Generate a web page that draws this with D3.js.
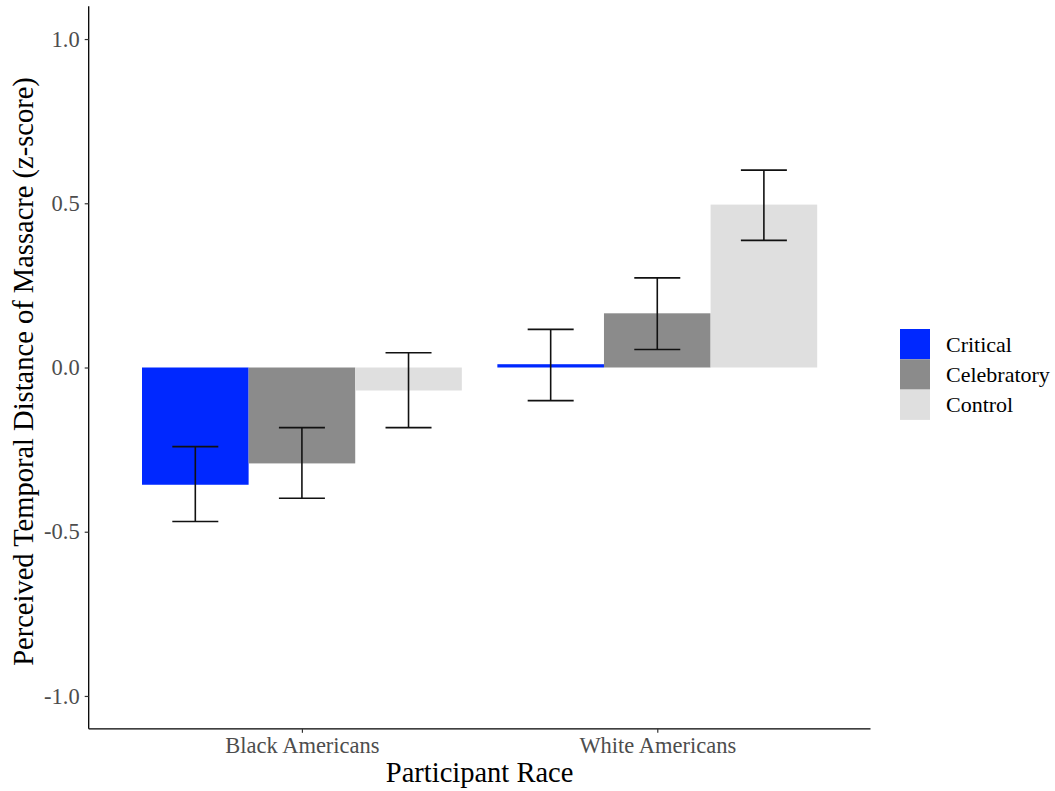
<!DOCTYPE html>
<html>
<head>
<meta charset="utf-8">
<script src="https://cdn.jsdelivr.net/npm/d3@7"></script>
<style>
  html, body { margin: 0; padding: 0; background: #fff; }
  svg { display: block; }
</style>
</head>
<body>
<svg id="chart" width="1055" height="791"></svg>
<script>
// ---- data ----
const groups = ["Black Americans", "White Americans"];
const conditions = ["Critical", "Celebratory", "Control"];
const criticalMeans = [-0.357, 0.010];
const celebratoryMeans = [-0.292, 0.165];
const controlMeans = [-0.070, 0.496];
const criticalLower = [-0.469, -0.101];
const criticalUpper = [-0.241, 0.116];
const celebratoryLower = [-0.398, 0.055];
const celebratoryUpper = [-0.183, 0.273];
const controlLower = [-0.183, 0.387];
const controlUpper = [0.045, 0.601];
const yTicks = [-1.0, -0.5, 0.0, 0.5, 1.0];
const colors = ["#0028ff", "#8b8b8b", "#dfdfdf"];

(function () {
const means = [criticalMeans, celebratoryMeans, controlMeans];
const lowers = [criticalLower, celebratoryLower, controlLower];
const uppers = [criticalUpper, celebratoryUpper, controlUpper];

const rows = [];
groups.forEach((g, gi) => {
  conditions.forEach((c, ci) => {
    rows.push({ group: g, cond: c, ci, mean: means[ci][gi], lo: lowers[ci][gi], hi: uppers[ci][gi] });
  });
});

// ---- layout ----
const svg = d3.select("#chart");
const pLeft = 88.7, pRight = 870.5, pTop = 6.2, pBottom = 728.8;
const FONT = "'Liberation Serif', 'Times New Roman', serif";

const x = d3.scalePoint().domain(groups).range([pLeft, pRight]).padding(0.6);
const step = x.step();
const groupW = step * 0.9;
const xs = d3.scaleBand().domain(conditions).range([-groupW / 2, groupW / 2]).padding(0);
const y = d3.scaleLinear().domain([-1.1, 1.1]).range([pBottom, pTop]);
const color = d3.scaleOrdinal().domain(conditions).range(colors);

// bars
svg.append("g").selectAll("rect").data(rows).join("rect")
  .attr("x", d => x(d.group) + xs(d.cond))
  .attr("width", xs.bandwidth())
  .attr("y", d => y(Math.max(0, d.mean)))
  .attr("height", d => Math.abs(y(d.mean) - y(0)))
  .attr("fill", d => color(d.cond));

// error bars
const capW = 46;
const eb = svg.append("g").attr("stroke", "#111").attr("stroke-width", 1.6).attr("fill", "none");
rows.forEach(d => {
  const cx = x(d.group) + xs(d.cond) + xs.bandwidth() / 2;
  eb.append("line").attr("x1", cx).attr("x2", cx).attr("y1", y(d.lo)).attr("y2", y(d.hi));
  eb.append("line").attr("x1", cx - capW / 2).attr("x2", cx + capW / 2).attr("y1", y(d.lo)).attr("y2", y(d.lo));
  eb.append("line").attr("x1", cx - capW / 2).attr("x2", cx + capW / 2).attr("y1", y(d.hi)).attr("y2", y(d.hi));
});

// axes
const yAxis = svg.append("g").attr("transform", `translate(${pLeft},0)`)
  .call(d3.axisLeft(y).tickValues(yTicks).tickFormat(d => d.toFixed(1)).tickSize(4).tickPadding(5));
const xAxis = svg.append("g").attr("transform", `translate(0,${pBottom})`)
  .call(d3.axisBottom(x).tickSize(4).tickPadding(4));
[yAxis, xAxis].forEach(a => {
  a.select(".domain").attr("stroke", "#000").attr("stroke-width", 1.3);
  a.selectAll(".tick line").attr("stroke", "#333").attr("stroke-width", 1.2);
  a.selectAll(".tick text").attr("fill", "#4d4d4d").attr("font-family", FONT).attr("font-size", 22.5);
});
yAxis.select(".domain").attr("d", `M0,${pTop}V${pBottom}`);
xAxis.select(".domain").attr("d", `M${pLeft},0H${pRight}`);

// axis titles
svg.append("text")
  .attr("x", (pLeft + pRight) / 2).attr("y", 782)
  .attr("text-anchor", "middle")
  .attr("font-family", FONT).attr("font-size", 28.5).attr("fill", "#000")
  .text("Participant Race");
svg.append("text")
  .attr("transform", `translate(33,${(pTop + pBottom) / 2 + 4}) rotate(-90)`)
  .attr("text-anchor", "middle")
  .attr("font-family", FONT).attr("font-size", 28.5).attr("fill", "#000")
  .text("Perceived Temporal Distance of Massacre (z-score)");

// legend
const legend = svg.append("g").attr("transform", "translate(900,329)");
conditions.forEach((c, i) => {
  legend.append("rect").attr("x", 0).attr("y", i * 30.3).attr("width", 30).attr("height", 30.3).attr("fill", color(c));
  legend.append("text").attr("x", 46).attr("y", i * 30.3 + 15).attr("dy", "0.35em")
    .attr("font-family", FONT).attr("font-size", 22).attr("fill", "#000").text(c);
});
})();
</script>
</body>
</html>
